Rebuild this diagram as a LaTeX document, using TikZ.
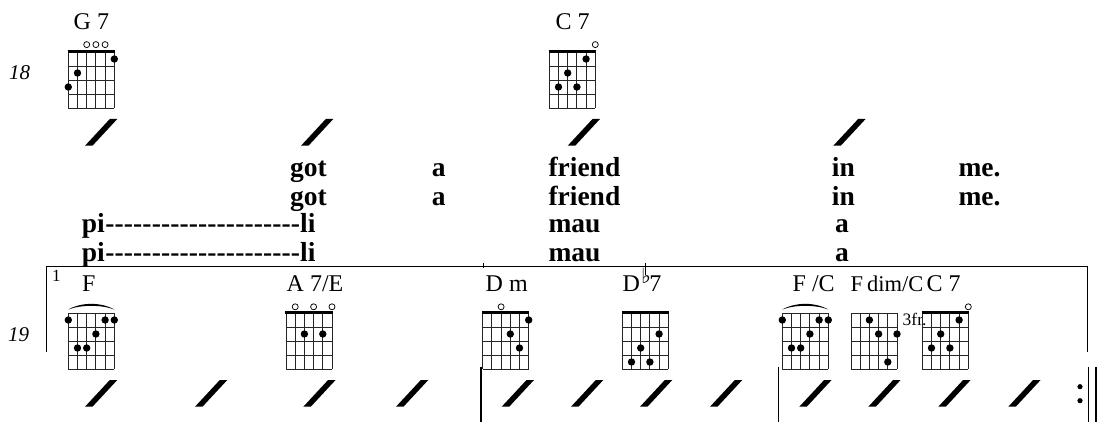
\documentclass[tikz,border=0pt]{standalone}
\usepackage{fontspec}
\setmainfont{Liberation Serif}
\newfontfamily\symfont{DejaVu Sans}
\usepackage{tikz}
\newcommand\lyrdash[1]{\hbox to #1{\xleaders\hbox{-}\hfill}}
\tikzset{
  lyric/.style={anchor=base west,inner sep=0pt,font=\fontsize{27.5}{28}\selectfont\bfseries},
  chordname/.style={anchor=base west,inner sep=0pt,font=\fontsize{24}{25}\selectfont},
  barno/.style={anchor=base west,inner sep=0pt,font=\fontsize{21}{22}\selectfont\itshape},
  gridline/.style={line width=0.95pt,black!85},
  opencirc/.style={line width=0.75pt,fill=white},
}

\begin{document}
\begin{tikzpicture}[x=1pt,y=-1pt]
\useasboundingbox (0,0) rectangle (1097,422);
% measure numbers
\node[barno] (m18) at (9,80) {18};
\node[barno] (m19) at (8,341.7) {19};
% chord names
\node[chordname] (g7) at (73.5,30) {G 7};
\node[chordname] (c7a) at (555.5,30) {C 7};
\node[chordname] (f) at (82,291.7) {F};
\node[chordname] (a7e) at (286.5,291.7) {A 7/E};
\node[chordname] (dm) at (485.5,291.7) {D m};
\node[chordname] (db7) at (622.5,291.7) {D\hspace{1pt}{\symfont\fontsize{21}{21}\selectfont\raisebox{8pt}{♭}}\hspace{-1.5pt}7};
\node[chordname] (fc) at (792.5,291.7) {F /C};
\node[chordname,font=\fontsize{22.5}{24}\selectfont] (fdim) at (850.5,291.7) {F\hspace{4pt}dim/C};
\node[chordname] (c7b) at (926.5,291.7) {C 7};
\node[anchor=base west,inner sep=0pt,font=\fontsize{17.5}{18}\selectfont] (fr3) at (902.5,325) {3fr.};
% chord grids
\foreach \L/\T in {68.3/52,549.3/52,68.3/313,286/313,482.7/313,622.3/313,782.3/313,851/313,922.3/313}{
  \foreach \i in {0,...,5} \draw[gridline] (\L+\i*9.2,\T) -- (\L+\i*9.2,\T+56);
  \foreach \j in {0,...,4} \draw[gridline] (\L,\T+\j*14) -- (\L+46,\T+\j*14);
}
\foreach \L/\T in {68.3/52,549.3/52,286/313,482.7/313,622.3/313,922.3/313}
  \draw[line width=3pt] (\L-0.6,\T-0.6) -- (\L+46.6,\T-0.6);
\foreach \L in {68.3,782.3}
  \fill (\L,309.5) .. controls (\L+13,302) and (\L+33,302) .. (\L+46,309.5)
        .. controls (\L+33,304.6) and (\L+13,304.6) .. (\L,309.5) -- cycle;
% dots
\foreach \i/\f in {0/3,1/2,5/1} \fill (68.3+\i*9.2,52+\f*14-7) circle(3.7pt);
\foreach \i in {2,3,4} \draw[opencirc] (68.3+\i*9.2,44.6) circle(3pt);
\foreach \i/\f in {1/3,2/2,3/3,4/1} \fill (549.3+\i*9.2,52+\f*14-7) circle(3.7pt);
\draw[opencirc] (549.3+46,44.6) circle(3pt);
\foreach \L in {68.3,782.3}
  \foreach \i/\f in {0/1,1/3,2/3,3/2,4/1,5/1} \fill (\L+\i*9.2,313+\f*14-7) circle(3.7pt);
\foreach \i/\f in {2/2,4/2} \fill (286+\i*9.2,313+\f*14-7) circle(3.7pt);
\foreach \i in {1,3,5} \draw[opencirc] (286+\i*9.2,306.8) circle(3pt);
\foreach \i/\f in {3/2,4/3,5/1} \fill (482.7+\i*9.2,313+\f*14-7) circle(3.7pt);
\draw[opencirc] (482.7+2*9.2,306.8) circle(3pt);
\foreach \i/\f in {1/4,2/3,3/4,4/2} \fill (622.3+\i*9.2,313+\f*14-7) circle(3.7pt);
\foreach \i/\f in {2/1,3/2,5/2,4/4} \fill (851+\i*9.2,313+\f*14-7) circle(3.7pt);
\foreach \i/\f in {1/3,2/2,3/3,4/1} \fill (922.3+\i*9.2,313+\f*14-7) circle(3.7pt);
\draw[opencirc] (922.3+46,306.8) circle(3pt);
% slashes
\foreach \x in {85,301,567.7,833.3}
  \fill (\x,145.7) -- (\x+7.5,145.7) -- (\x+32.3,119) -- (\x+24.8,119) -- cycle;
\foreach \x in {85,195,303.3,396,501.7,571,640,710,799.3,868.3,938.3,1008.3}
  \fill (\x,406.7) -- (\x+7.5,406.7) -- (\x+32.3,380) -- (\x+24.8,380) -- cycle;
% lyrics
\node[lyric] (got1) at (290,176.5) {got};
\node[lyric] (a1) at (431.7,176.5) {a};
\node[lyric] (friend1) at (548.3,176.5) {friend};
\node[lyric] (in1) at (831.7,176.5) {in};
\node[lyric] (me1) at (958.3,176.5) {me.};
\node[lyric] (got2) at (290,205) {got};
\node[lyric] (a2) at (431.7,205) {a};
\node[lyric] (friend2) at (548.3,205) {friend};
\node[lyric] (in2) at (831.7,205) {in};
\node[lyric] (me2) at (958.3,205) {me.};
\node[lyric] (pi3) at (81.7,233) {pi};
\node[lyric] (li3) at (300,233) {li};
\node[lyric] (ext3) at (pi3.base east) {\lyrdash{195pt}};
\node[lyric] (mau3) at (548.3,233) {mau};
\node[lyric] (a3) at (835,233) {a};
\node[lyric] (pi4) at (81.7,261.5) {pi};
\node[lyric] (li4) at (300,261.5) {li};
\node[lyric] (ext4) at (pi4.base east) {\lyrdash{195pt}};
\node[lyric] (mau4) at (548.3,261.5) {mau};
\node[lyric] (a4) at (835,261.5) {a};
% volta bracket
\draw[line width=1.3pt] (46.7,351.7) -- (46.7,266.5) -- (1087.3,266.5) -- (1087.3,351.7);
\node[anchor=base west,inner sep=0pt,font=\fontsize{17}{18}\selectfont] (volta) at (52,281.5) {1};
\draw[line width=0.8pt] (483,262.7) -- (483,268);
\draw[line width=0.8pt] (645,262.7) -- (645,275);
% bar lines
\draw[line width=1.5pt] (481,366.7) -- (481,422);
\draw[line width=1.5pt] (778.3,366.7) -- (778.3,422);
\draw[line width=1.5pt] (1088.3,366.7) -- (1088.3,422);
\draw[line width=2.2pt] (1096,366.7) -- (1096,422);
\fill (1080,386.7) circle(2.6pt);
\fill (1080,400.7) circle(2.6pt);
\end{tikzpicture}
\end{document}
